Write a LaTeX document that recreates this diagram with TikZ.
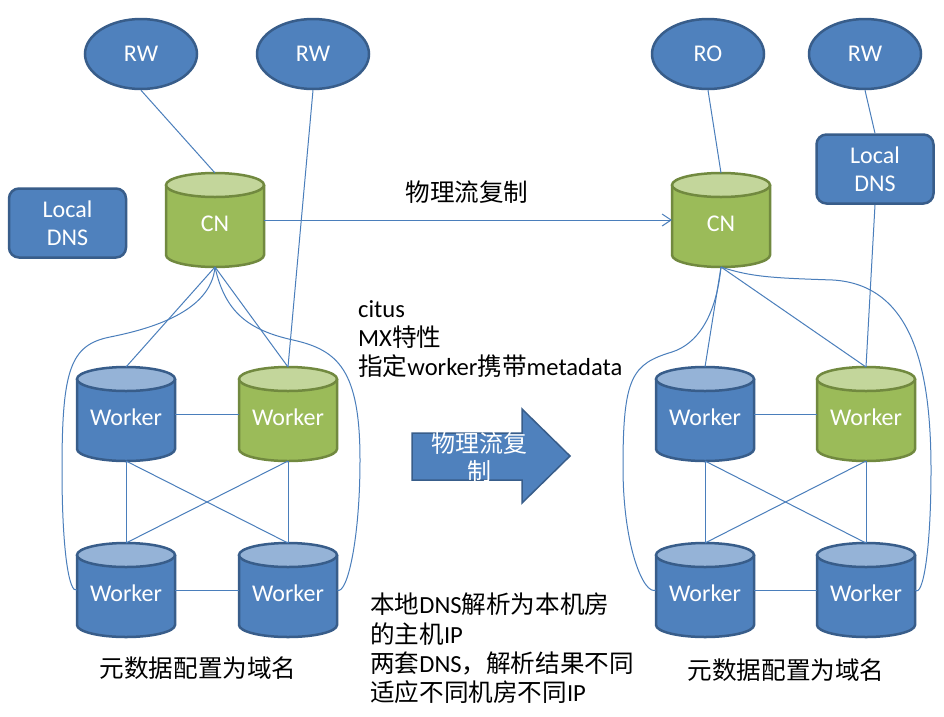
\documentclass[tikz,border=0pt]{standalone}
\usepackage{fontspec}
\setmainfont{Carlito}
\newfontfamily\cjk{Noto Sans CJK SC}
\usetikzlibrary{shapes.geometric,arrows.meta}
\definecolor{bfill}{HTML}{4F81BD}
\definecolor{bline}{HTML}{385D8A}
\definecolor{bcap}{HTML}{95B3D7}
\definecolor{gfill}{HTML}{9BBB59}
\definecolor{gline}{HTML}{71893F}
\definecolor{gcap}{HTML}{C3D69B}
\definecolor{conn}{HTML}{4A7EBB}
\tikzset{
  lbl/.style={font=\fontsize{24}{28}\selectfont},
  conline/.style={draw=conn, line width=1pt},
  ell/.style={ellipse, fill=bfill, draw=bline, line width=2.5pt, minimum width=112pt, minimum height=70pt, inner sep=0pt, text=white, lbl},
  dnsbox/.style={rectangle, rounded corners=10pt, fill=bfill, draw=bline, line width=2.5pt, minimum width=117pt, minimum height=69pt, inner sep=0pt, text=white, align=center, lbl},
  cyltext/.style={rectangle, minimum width=98pt, minimum height=94pt, inner sep=0pt, outer sep=0pt, text=white, text height=23pt, text depth=0pt, lbl},
  note/.style={anchor=north west, align=left, inner sep=0pt, font=\fontsize{24.6}{29.3}\selectfont},
  cjklbl/.style={font=\cjk\fontsize{24.6}{28}\selectfont},
}
\newcommand\dbcyl[7]{% name, cx, ytop, fill, cap, border, text
  \pgfmathsetmacro\cxl{#2-49}\pgfmathsetmacro\cxr{#2+49}
  \pgfmathsetmacro\cya{#3+12}\pgfmathsetmacro\cyb{#3+94-12}
  \pgfmathsetmacro\cym{#3+47}
  \fill[#4] (\cxl,\cya) -- (\cxl,\cyb) arc[start angle=180,end angle=360,x radius=49pt,y radius=12pt] -- (\cxr,\cya) -- cycle;
  \draw[#6, line width=2.5pt] (\cxl,\cya) -- (\cxl,\cyb) arc[start angle=180,end angle=360,x radius=49pt,y radius=12pt] -- (\cxr,\cya);
  \filldraw[fill=#5, draw=#6, line width=2.5pt] (#2,\cya) ellipse[x radius=49pt, y radius=12pt];
  \node[cyltext] (#1) at (#2,\cym) {#7};
}
\begin{document}
\begin{tikzpicture}[x=1pt,y=-1pt]
\useasboundingbox[fill=white] (0,0) rectangle (944,716);

% ---------- left site ----------
\node[ell] (rw1) at (141,54) {RW};
\node[ell] (rw2) at (313,54) {RW};
\node[dnsbox] (dns1) at (67.5,223) {Local\\DNS};
\dbcyl{cn1}{215}{173}{gfill}{gcap}{gline}{CN}
\dbcyl{w11}{126}{367}{bfill}{bcap}{bline}{Worker}
\dbcyl{w12}{288}{367}{gfill}{gcap}{gline}{Worker}
\dbcyl{w13}{126}{543}{bfill}{bcap}{bline}{Worker}
\dbcyl{w14}{288}{543}{bfill}{bcap}{bline}{Worker}

% ---------- right site ----------
\node[ell] (ro) at (708,54) {RO};
\node[ell] (rw3) at (865,54) {RW};
\node[dnsbox] (dns2) at (875,169) {Local\\DNS};
\dbcyl{cn2}{721}{173}{gfill}{gcap}{gline}{CN}
\dbcyl{w21}{705}{367}{bfill}{bcap}{bline}{Worker}
\dbcyl{w22}{866}{367}{gfill}{gcap}{gline}{Worker}
\dbcyl{w23}{705}{543}{bfill}{bcap}{bline}{Worker}
\dbcyl{w24}{866}{543}{bfill}{bcap}{bline}{Worker}

% ---------- connectors left ----------
\draw[conline] (rw1.south) -- (cn1.north);
\draw[conline] (rw2.south) -- (w12.north);
\draw[conline] (cn1.south) -- (w11.north);
\draw[conline] (cn1.south) -- (w12.north);
\draw[conline] (w11.east) -- (w12.west);
\draw[conline] (w13.east) -- (w14.west);
\draw[conline] (w11.south) -- (w13.north);
\draw[conline] (w12.south) -- (w14.north);
\draw[conline] (w11.south) -- (w14.north);
\draw[conline] (w12.south) -- (w13.north);
\draw[conline] (cn1.south) .. controls +(-4,45) and +(40,-8) .. (110,337)
  .. controls +(-40,8) and +(0,-100) .. (62,470)
  .. controls +(0,80) and +(-8,4) .. (w13.west);
\draw[conline] (cn1.south) .. controls +(10,45) and +(-45,-10) .. (293,340)
  .. controls +(45,10) and +(0,-90) .. (360,460)
  .. controls +(0,80) and +(10,6) .. (w14.east);

% ---------- connectors right ----------
\draw[conline] (ro.south) -- (cn2.north);
\draw[conline] (rw3.south) -- (dns2.north);
\draw[conline] (dns2.south) -- (w22.north);
\draw[conline] (cn2.south) -- (w21.north);
\draw[conline] (cn2.south) -- (w22.north);
\draw[conline] (w21.east) -- (w22.west);
\draw[conline] (w23.east) -- (w24.west);
\draw[conline] (w21.south) -- (w23.north);
\draw[conline] (w22.south) -- (w24.north);
\draw[conline] (w21.south) -- (w24.north);
\draw[conline] (w22.south) -- (w23.north);
\draw[conline] (cn2.south) .. controls +(-5,50) and +(25,-8) .. (672,352)
  .. controls +(-40,12) and +(0,-90) .. (623,467)
  .. controls +(0,80) and +(-12,6) .. (w23.west);
\draw[conline] (cn2.south) .. controls +(30,10) and +(-60,-2) .. (833,280)
  .. controls +(80,5) and +(0,-100) .. (931,470)
  .. controls +(0,80) and +(8,8) .. (w24.east);

% replication arrow
\draw[conline, -{Straight Barb[length=9pt,width=12pt,line width=1pt]}] (cn1.east) -- (cn2.west);
\node[cjklbl] (rep) at (467,192) {物理流复制};

% block arrow
\filldraw[fill=bfill, draw=bline, line width=1.5pt] (412,433) -- (522,433) -- (522,409) -- (570,456) -- (522,503) -- (522,480) -- (412,480) -- cycle;
\node[align=center, text=white, inner sep=0pt, font=\cjk\fontsize{24}{28}\selectfont] (blk) at (479,457) {物理流复\\制};

% notes
\node[note] (citus) at (358,300) {citus\\MX{\cjk 特性}\\{\cjk 指定}worker{\cjk 携带}metadata};
\node[note] (dnsnote) at (370,593) {{\cjk 本地}DNS{\cjk 解析为本机房}\\{\cjk 的主机}IP\\{\cjk 两套}DNS{\cjk ，解析结果不同}\\{\cjk 适应不同机房不同}IP};
\node[cjklbl] (meta1) at (198,668) {元数据配置为域名};
\node[cjklbl] (meta2) at (786,670) {元数据配置为域名};
\end{tikzpicture}
\end{document}
